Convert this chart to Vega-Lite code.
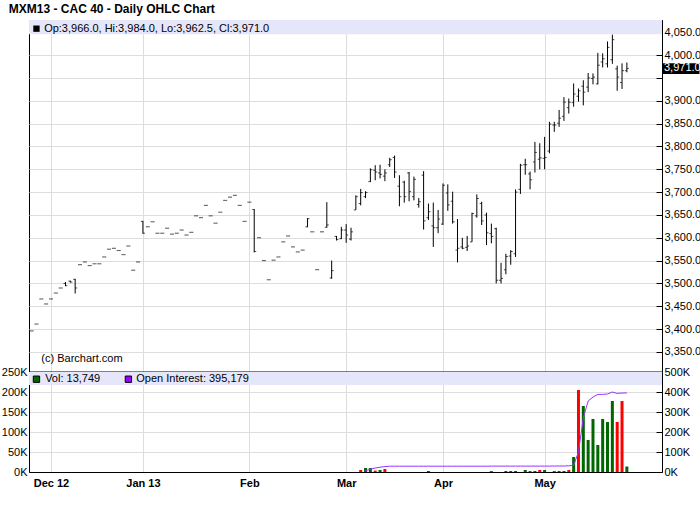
{
"$schema": "https://vega.github.io/schema/vega-lite/v6.json",
"padding": {"left": 0, "top": 2, "right": 0, "bottom": 0},
"background": "white",
"title": {"text": "MXM13 - CAC 40 - Daily OHLC Chart", "anchor": "start", "frame": "bounds", "dx": 8, "fontSize": 12, "font": "Liberation Sans", "fontWeight": "bold", "offset": 4, "color": "black"},
"config": {
  "font": "Liberation Sans",
  "view": {"stroke": "black", "strokeWidth": 1},
  "axis": {"labelFont": "Liberation Sans", "labelFontSize": 11, "labelColor": "black", "gridColor": "#dddddd", "domainColor": "black", "tickColor": "black", "title": null, "labelOverlap": false},
  "concat": {"spacing": 0}
},
"datasets": {"d": [
{"date":"2012-11-27","o":3396,"h":3396,"l":3396,"c":3396},
{"date":"2012-11-28","o":3411,"h":3411,"l":3411,"c":3411},
{"date":"2012-11-29","o":3466,"h":3466,"l":3466,"c":3466},
{"date":"2012-11-30","o":3455,"h":3455,"l":3455,"c":3455},
{"date":"2012-12-03","o":3466,"h":3466,"l":3466,"c":3466},
{"date":"2012-12-04","o":3479,"h":3479,"l":3479,"c":3479},
{"date":"2012-12-05","o":3490,"h":3490,"l":3490,"c":3490},
{"date":"2012-12-06","o":3500,"h":3503,"l":3494,"c":3495},
{"date":"2012-12-07","o":3505,"h":3506,"l":3502,"c":3503},
{"date":"2012-12-10","o":3509,"h":3510,"l":3478,"c":3490},
{"date":"2012-12-11","o":3541,"h":3541,"l":3541,"c":3541},
{"date":"2012-12-12","o":3547,"h":3547,"l":3547,"c":3547},
{"date":"2012-12-13","o":3539,"h":3539,"l":3539,"c":3539},
{"date":"2012-12-14","o":3543,"h":3543,"l":3543,"c":3543},
{"date":"2012-12-17","o":3543,"h":3543,"l":3543,"c":3543},
{"date":"2012-12-18","o":3558,"h":3558,"l":3558,"c":3558},
{"date":"2012-12-19","o":3575,"h":3575,"l":3575,"c":3575},
{"date":"2012-12-20","o":3577,"h":3577,"l":3577,"c":3577},
{"date":"2012-12-21","o":3572,"h":3572,"l":3572,"c":3572},
{"date":"2012-12-24","o":3563,"h":3563,"l":3563,"c":3563},
{"date":"2012-12-27","o":3582,"h":3582,"l":3582,"c":3582},
{"date":"2012-12-28","o":3529,"h":3529,"l":3529,"c":3529},
{"date":"2012-12-31","o":3547,"h":3547,"l":3547,"c":3547},
{"date":"2013-01-02","o":3636,"h":3637,"l":3609,"c":3610},
{"date":"2013-01-03","o":3624,"h":3624,"l":3624,"c":3624},
{"date":"2013-01-04","o":3635,"h":3635,"l":3635,"c":3635},
{"date":"2013-01-07","o":3610,"h":3610,"l":3610,"c":3610},
{"date":"2013-01-08","o":3610,"h":3610,"l":3610,"c":3610},
{"date":"2013-01-09","o":3621,"h":3621,"l":3621,"c":3621},
{"date":"2013-01-10","o":3608,"h":3608,"l":3608,"c":3608},
{"date":"2013-01-11","o":3610,"h":3610,"l":3610,"c":3610},
{"date":"2013-01-14","o":3617,"h":3617,"l":3617,"c":3617},
{"date":"2013-01-15","o":3606,"h":3606,"l":3606,"c":3606},
{"date":"2013-01-16","o":3612,"h":3612,"l":3612,"c":3612},
{"date":"2013-01-17","o":3648,"h":3648,"l":3648,"c":3648},
{"date":"2013-01-18","o":3644,"h":3644,"l":3644,"c":3644},
{"date":"2013-01-21","o":3671,"h":3671,"l":3671,"c":3671},
{"date":"2013-01-22","o":3648,"h":3648,"l":3648,"c":3648},
{"date":"2013-01-23","o":3632,"h":3632,"l":3632,"c":3632},
{"date":"2013-01-24","o":3656,"h":3656,"l":3656,"c":3656},
{"date":"2013-01-25","o":3682,"h":3682,"l":3682,"c":3682},
{"date":"2013-01-28","o":3689,"h":3689,"l":3689,"c":3689},
{"date":"2013-01-29","o":3693,"h":3693,"l":3693,"c":3693},
{"date":"2013-01-30","o":3671,"h":3671,"l":3671,"c":3671},
{"date":"2013-01-31","o":3636,"h":3636,"l":3636,"c":3636},
{"date":"2013-02-01","o":3678,"h":3678,"l":3678,"c":3678},
{"date":"2013-02-04","o":3662,"h":3663,"l":3568,"c":3570},
{"date":"2013-02-05","o":3600,"h":3600,"l":3600,"c":3600},
{"date":"2013-02-06","o":3550,"h":3550,"l":3550,"c":3550},
{"date":"2013-02-07","o":3508,"h":3508,"l":3508,"c":3508},
{"date":"2013-02-08","o":3551,"h":3551,"l":3551,"c":3551},
{"date":"2013-02-11","o":3558,"h":3558,"l":3558,"c":3558},
{"date":"2013-02-12","o":3591,"h":3591,"l":3591,"c":3591},
{"date":"2013-02-13","o":3604,"h":3604,"l":3604,"c":3604},
{"date":"2013-02-14","o":3580,"h":3580,"l":3580,"c":3580},
{"date":"2013-02-15","o":3569,"h":3569,"l":3569,"c":3569},
{"date":"2013-02-18","o":3573,"h":3573,"l":3573,"c":3573},
{"date":"2013-02-19","o":3624,"h":3643,"l":3623,"c":3642},
{"date":"2013-02-20","o":3613,"h":3613,"l":3613,"c":3613},
{"date":"2013-02-21","o":3530,"h":3530,"l":3530,"c":3530},
{"date":"2013-02-22","o":3613,"h":3613,"l":3613,"c":3613},
{"date":"2013-02-25","o":3623,"h":3678,"l":3622,"c":3628},
{"date":"2013-02-26","o":3512,"h":3550,"l":3510,"c":3528},
{"date":"2013-02-27","o":3603,"h":3604,"l":3594,"c":3596},
{"date":"2013-02-28","o":3598,"h":3624,"l":3597,"c":3617},
{"date":"2013-03-01","o":3617,"h":3630,"l":3589,"c":3606},
{"date":"2013-03-04","o":3597,"h":3622,"l":3594,"c":3613},
{"date":"2013-03-05","o":3661,"h":3693,"l":3661,"c":3690},
{"date":"2013-03-06","o":3675,"h":3707,"l":3671,"c":3699,"vol":5000,"dir":"down"},
{"date":"2013-03-07","o":3690,"h":3702,"l":3687,"c":3699,"vol":10000,"dir":"up","oi":6000},
{"date":"2013-03-08","o":3723,"h":3752,"l":3722,"c":3749,"vol":10000,"dir":"up","oi":14000},
{"date":"2013-03-11","o":3748,"h":3759,"l":3726,"c":3744,"vol":3500,"dir":"down","oi":20000},
{"date":"2013-03-12","o":3742,"h":3760,"l":3730,"c":3739,"vol":5000,"dir":"up","oi":24000},
{"date":"2013-03-13","o":3735,"h":3750,"l":3724,"c":3742,"vol":7500,"dir":"down","oi":27000},
{"date":"2013-03-14","o":3760,"h":3775,"l":3755,"c":3771,"oi":29000},
{"date":"2013-03-15","o":3776,"h":3780,"l":3731,"c":3744,"oi":29000},
{"date":"2013-03-18","o":3713,"h":3737,"l":3669,"c":3690,"oi":29000},
{"date":"2013-03-19","o":3722,"h":3725,"l":3677,"c":3690,"oi":29000},
{"date":"2013-03-20","o":3742,"h":3744,"l":3680,"c":3701,"oi":29000},
{"date":"2013-03-21","o":3690,"h":3734,"l":3682,"c":3728,"oi":29000},
{"date":"2013-03-22","o":3673,"h":3687,"l":3666,"c":3679,"oi":29000},
{"date":"2013-03-25","o":3737,"h":3746,"l":3618,"c":3637,"oi":29000},
{"date":"2013-03-26","o":3644,"h":3675,"l":3639,"c":3657,"vol":2500,"dir":"up","oi":29000},
{"date":"2013-03-27","o":3626,"h":3677,"l":3580,"c":3622,"oi":29000},
{"date":"2013-03-28","o":3622,"h":3661,"l":3610,"c":3641,"oi":29000},
{"date":"2013-04-02","o":3630,"h":3719,"l":3628,"c":3715,"oi":29000},
{"date":"2013-04-03","o":3698,"h":3717,"l":3659,"c":3672,"oi":29000},
{"date":"2013-04-04","o":3680,"h":3701,"l":3631,"c":3635,"oi":29000},
{"date":"2013-04-05","o":3573,"h":3641,"l":3546,"c":3577,"oi":29000},
{"date":"2013-04-08","o":3580,"h":3600,"l":3575,"c":3577,"oi":29000},
{"date":"2013-04-09","o":3579,"h":3604,"l":3571,"c":3582,"oi":29000},
{"date":"2013-04-10","o":3591,"h":3655,"l":3591,"c":3653,"oi":29000},
{"date":"2013-04-11","o":3648,"h":3695,"l":3644,"c":3686,"oi":29000},
{"date":"2013-04-12","o":3675,"h":3679,"l":3628,"c":3637,"oi":29000},
{"date":"2013-04-15","o":3650,"h":3655,"l":3584,"c":3611,"oi":29000},
{"date":"2013-04-16","o":3609,"h":3631,"l":3588,"c":3603,"vol":2500,"dir":"down","oi":29500},
{"date":"2013-04-17","o":3620,"h":3622,"l":3500,"c":3507,"oi":29500},
{"date":"2013-04-18","o":3507,"h":3545,"l":3500,"c":3511,"oi":29500},
{"date":"2013-04-19","o":3530,"h":3565,"l":3520,"c":3559,"vol":2500,"dir":"up","oi":29500},
{"date":"2013-04-22","o":3560,"h":3573,"l":3541,"c":3570,"vol":2500,"dir":"up","oi":29500},
{"date":"2013-04-23","o":3565,"h":3706,"l":3558,"c":3700,"vol":2500,"dir":"up","oi":29500},
{"date":"2013-04-24","o":3706,"h":3762,"l":3696,"c":3759,"oi":29500},
{"date":"2013-04-25","o":3760,"h":3773,"l":3738,"c":3760,"vol":5000,"dir":"up","oi":29500},
{"date":"2013-04-26","o":3740,"h":3745,"l":3706,"c":3727,"vol":2500,"dir":"down","oi":29500},
{"date":"2013-04-29","o":3766,"h":3810,"l":3743,"c":3787,"vol":2500,"dir":"up","oi":29500},
{"date":"2013-04-30","o":3772,"h":3807,"l":3750,"c":3775,"vol":5000,"dir":"down","oi":29500},
{"date":"2013-05-02","o":3774,"h":3821,"l":3750,"c":3776,"vol":5000,"dir":"up","oi":29500},
{"date":"2013-05-03","o":3790,"h":3854,"l":3785,"c":3849,"oi":29500},
{"date":"2013-05-06","o":3847,"h":3854,"l":3832,"c":3847,"vol":2500,"dir":"down","oi":30000},
{"date":"2013-05-07","o":3851,"h":3880,"l":3843,"c":3862,"vol":2500,"dir":"up","oi":30000},
{"date":"2013-05-08","o":3866,"h":3908,"l":3856,"c":3897,"vol":2500,"dir":"up","oi":30000},
{"date":"2013-05-09","o":3885,"h":3905,"l":3872,"c":3897,"vol":5000,"dir":"down","oi":31000},
{"date":"2013-05-10","o":3896,"h":3938,"l":3887,"c":3915,"vol":37500,"dir":"up","oi":33000},
{"date":"2013-05-13","o":3910,"h":3927,"l":3898,"c":3922,"vol":205000,"dir":"down","oi":100000},
{"date":"2013-05-14","o":3932,"h":3945,"l":3890,"c":3919,"vol":165000,"dir":"up","oi":270000},
{"date":"2013-05-15","o":3930,"h":3961,"l":3919,"c":3950,"vol":80000,"dir":"up","oi":355000},
{"date":"2013-05-16","o":3949,"h":3960,"l":3936,"c":3952,"vol":132500,"dir":"up","oi":375000},
{"date":"2013-05-17","o":3937,"h":4005,"l":3936,"c":3978,"vol":67500,"dir":"up","oi":388000},
{"date":"2013-05-20","o":3985,"h":4004,"l":3973,"c":3992,"vol":132500,"dir":"up","oi":388000},
{"date":"2013-05-21","o":3981,"h":4030,"l":3973,"c":4017,"vol":125000,"dir":"up","oi":390000},
{"date":"2013-05-22","o":3990,"h":4045,"l":3981,"c":4034,"vol":177500,"dir":"up","oi":400000},
{"date":"2013-05-23","o":3970,"h":3977,"l":3922,"c":3952,"vol":125000,"dir":"down","oi":393000},
{"date":"2013-05-24","o":3940,"h":3982,"l":3926,"c":3966,"vol":177500,"dir":"down","oi":395000},
{"date":"2013-05-27","o":3966,"h":3984,"l":3962.5,"c":3971,"vol":13749,"dir":"up","oi":395179}
]},
"resolve": {"scale": {"x": "shared"}},
"spacing": 0,
"bounds": "flush",
"vconcat": [
{
  "width": 633, "height": 352,
  "layer": [
    {"data": {"values": [{}]}, "mark": {"type": "rect", "color": "#e6e6fa"},
     "encoding": {"y": {"datum": 4046, "type": "quantitative"}, "y2": {"datum": 4077}}},
    {"data": {"name": "d"}, "mark": {"type": "rule", "color": "black", "strokeWidth": 1},
     "encoding": {
       "x": {"field": "date", "type": "ordinal",
             "scale": {"type": "point", "padding": 0.9, "align": 0.3,
                       "domain": ["2012-11-27","2012-11-28","2012-11-29","2012-11-30","2012-12-03","2012-12-04","2012-12-05","2012-12-06","2012-12-07","2012-12-10","2012-12-11","2012-12-12","2012-12-13","2012-12-14","2012-12-17","2012-12-18","2012-12-19","2012-12-20","2012-12-21","2012-12-24","2012-12-27","2012-12-28","2012-12-31","2013-01-02","2013-01-03","2013-01-04","2013-01-07","2013-01-08","2013-01-09","2013-01-10","2013-01-11","2013-01-14","2013-01-15","2013-01-16","2013-01-17","2013-01-18","2013-01-21","2013-01-22","2013-01-23","2013-01-24","2013-01-25","2013-01-28","2013-01-29","2013-01-30","2013-01-31","2013-02-01","2013-02-04","2013-02-05","2013-02-06","2013-02-07","2013-02-08","2013-02-11","2013-02-12","2013-02-13","2013-02-14","2013-02-15","2013-02-18","2013-02-19","2013-02-20","2013-02-21","2013-02-22","2013-02-25","2013-02-26","2013-02-27","2013-02-28","2013-03-01","2013-03-04","2013-03-05","2013-03-06","2013-03-07","2013-03-08","2013-03-11","2013-03-12","2013-03-13","2013-03-14","2013-03-15","2013-03-18","2013-03-19","2013-03-20","2013-03-21","2013-03-22","2013-03-25","2013-03-26","2013-03-27","2013-03-28","2013-04-02","2013-04-03","2013-04-04","2013-04-05","2013-04-08","2013-04-09","2013-04-10","2013-04-11","2013-04-12","2013-04-15","2013-04-16","2013-04-17","2013-04-18","2013-04-19","2013-04-22","2013-04-23","2013-04-24","2013-04-25","2013-04-26","2013-04-29","2013-04-30","2013-05-02","2013-05-03","2013-05-06","2013-05-07","2013-05-08","2013-05-09","2013-05-10","2013-05-13","2013-05-14","2013-05-15","2013-05-16","2013-05-17","2013-05-20","2013-05-21","2013-05-22","2013-05-23","2013-05-24","2013-05-27","2013-05-28","2013-05-29","2013-05-30","2013-05-31","2013-06-03","2013-06-04"]},
             "axis": {"orient": "bottom", "labels": false, "ticks": false, "domain": true, "domainWidth": 2, "grid": true, "values": ["2012-12-03","2013-01-02","2013-02-01","2013-03-01","2013-04-02","2013-05-02"]}},
       "y": {"field": "l", "type": "quantitative", "scale": {"domain": [3306, 4077], "nice": false, "zero": false},
             "axis": {"orient": "right", "values": [3350,3400,3450,3500,3550,3600,3650,3700,3750,3800,3850,3900,3950,4000,4050], "tickCount": 30, "labelExpr": "datum.value == 3950 ? '' : format(datum.value, ',.1f')", "labelOverlap": false, "labelBound": false, "labelFlush": false, "grid": true, "tickSize": -6, "labelPadding": 8, "domain": true}},
       "y2": {"field": "h"}
     }},
    {"data": {"name": "d"}, "mark": {"type": "tick", "color": "black", "size": 2, "thickness": 1, "xOffset": -1, "orient": "horizontal"},
     "encoding": {"x": {"field": "date", "type": "ordinal"}, "y": {"field": "o", "type": "quantitative"}}},
    {"data": {"name": "d"}, "mark": {"type": "tick", "color": "black", "size": 2, "thickness": 1, "xOffset": 1, "orient": "horizontal"},
     "encoding": {"x": {"field": "date", "type": "ordinal"}, "y": {"field": "c", "type": "quantitative"}}},
    {"data": {"values": [{"t": "(c) Barchart.com"}]}, "mark": {"type": "text", "align": "left", "baseline": "middle", "fontSize": 11, "color": "black"},
     "encoding": {"x": {"datum": "2012-11-29", "type": "ordinal"}, "y": {"datum": 3335, "type": "quantitative"}, "text": {"field": "t"}}},
    {"data": {"values": [{}]}, "mark": {"type": "point", "shape": "square", "filled": true, "color": "black", "size": 40, "opacity": 1},
     "encoding": {"x": {"datum": "2012-11-28", "type": "ordinal"}, "y": {"datum": 4058, "type": "quantitative"}}},
    {"data": {"values": [{"t": "Op:3,966.0, Hi:3,984.0, Lo:3,962.5, Cl:3,971.0"}]}, "mark": {"type": "text", "align": "left", "baseline": "middle", "fontSize": 11, "color": "black", "dx": -2},
     "encoding": {"x": {"datum": "2012-11-30", "type": "ordinal"}, "y": {"datum": 4058, "type": "quantitative"}, "text": {"field": "t"}}},
    {"data": {"values": [{}]}, "mark": {"type": "point", "shape": "M0.1,-1.05H7.5V1.1H0.1Z", "filled": true, "color": "black", "opacity": 1, "size": 100},
     "encoding": {"x": {"value": "width"}, "y": {"datum": 3971, "type": "quantitative"}}},
    {"data": {"values": [{"t": "3,971.0"}]}, "mark": {"type": "text", "align": "left", "baseline": "middle", "fontSize": 11, "color": "white", "dx": 2},
     "encoding": {"x": {"value": "width"}, "y": {"datum": 3971, "type": "quantitative"}, "text": {"field": "t"}}}
  ]
},
{
  "width": 633, "height": 100,
  "layer": [
    {"layer": [
      {"data": {"values": [{}]}, "mark": {"type": "rect", "color": "#e6e6fa"},
       "encoding": {"y": {"datum": 217500, "type": "quantitative"}, "y2": {"datum": 250000}}},
      {"data": {"name": "d"}, "mark": {"type": "bar", "size": 3},
       "encoding": {
         "x": {"field": "date", "type": "ordinal",
               "axis": {"orient": "bottom", "values": ["2012-12-03","2013-01-02","2013-02-01","2013-03-01","2013-04-02","2013-05-02"], "labelExpr": "datum.value == '2012-12-03' ? 'Dec 12' : datum.value == '2013-01-02' ? 'Jan 13' : datum.value == '2013-02-01' ? 'Feb' : datum.value == '2013-03-01' ? 'Mar' : datum.value == '2013-04-02' ? 'Apr' : 'May'", "labelFontWeight": "bold", "labelAngle": 0, "ticks": false, "labelPadding": 5, "grid": true, "domain": true}},
         "y": {"field": "vol", "type": "quantitative", "scale": {"domain": [0, 250000], "nice": false},
               "axis": {"orient": "left", "values": [0,50000,100000,150000,200000,250000], "tickCount": 20, "labelExpr": "(datum.value/1000) + 'K'", "labelOverlap": false, "labelBound": false, "labelFlush": false, "grid": true, "ticks": false, "labelPadding": 2, "domain": true}},
         "color": {"field": "dir", "type": "nominal", "scale": {"domain": ["up", "down"], "range": ["#006600", "#ff0000"]}, "legend": null}
       }},
      {"data": {"values": [{}]}, "mark": {"type": "point", "shape": "square", "filled": true, "color": "#006600", "stroke": "black", "strokeWidth": 1, "size": 40, "opacity": 1},
       "encoding": {"x": {"datum": "2012-11-28", "type": "ordinal"}, "y": {"datum": 232000, "type": "quantitative"}}},
      {"data": {"values": [{"t": "Vol: 13,749"}]}, "mark": {"type": "text", "align": "left", "baseline": "middle", "fontSize": 11, "color": "black", "dx": -1},
       "encoding": {"x": {"datum": "2012-11-30", "type": "ordinal"}, "y": {"datum": 232000, "type": "quantitative"}, "text": {"field": "t"}}},
      {"data": {"values": [{}]}, "mark": {"type": "point", "shape": "square", "filled": true, "color": "#9900ff", "stroke": "black", "strokeWidth": 1, "size": 40, "opacity": 1},
       "encoding": {"x": {"datum": "2012-12-27", "type": "ordinal"}, "y": {"datum": 232000, "type": "quantitative"}}},
      {"data": {"values": [{"t": "Open Interest: 395,179"}]}, "mark": {"type": "text", "align": "left", "baseline": "middle", "fontSize": 11, "color": "black", "dx": 3},
       "encoding": {"x": {"datum": "2012-12-28", "type": "ordinal"}, "y": {"datum": 232000, "type": "quantitative"}, "text": {"field": "t"}}}
    ]},
    {"data": {"name": "d"}, "mark": {"type": "line", "color": "#9933ff", "strokeWidth": 1},
     "encoding": {
       "x": {"field": "date", "type": "ordinal"},
       "y": {"field": "oi", "type": "quantitative", "scale": {"domain": [0, 500000], "nice": false},
             "axis": {"orient": "right", "values": [0,100000,200000,300000,400000,500000], "tickCount": 20, "labelExpr": "(datum.value/1000) + 'K'", "labelOverlap": false, "labelBound": false, "labelFlush": false, "grid": false, "tickSize": -6, "labelPadding": 8, "domain": true}}
     }}
  ],
  "resolve": {"scale": {"y": "independent"}}
}
]
}
